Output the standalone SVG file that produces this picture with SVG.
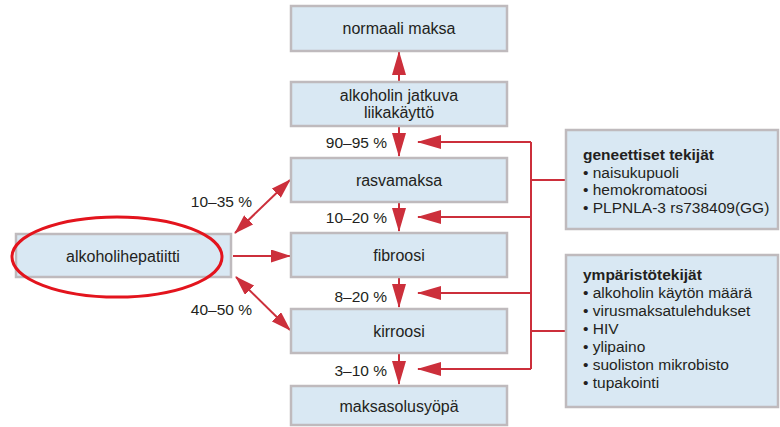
<svg xmlns="http://www.w3.org/2000/svg" width="780" height="427" viewBox="0 0 780 427">
<style>
.box{fill:#d9e8f3;stroke:#bfbabd;stroke-width:2.5}
.t{font-family:"Liberation Sans",Arial,sans-serif;font-size:16px;fill:#231f20;text-anchor:middle}
.s{font-family:"Liberation Sans",Arial,sans-serif;font-size:15.5px;fill:#231f20}
.p{font-family:"Liberation Sans",Arial,sans-serif;font-size:15.5px;fill:#231f20;text-anchor:end}
.b{font-weight:bold}
.ln{fill:none;stroke:#cc2f3b;stroke-width:2}
</style>
<defs>
<marker id="ah" markerUnits="userSpaceOnUse" markerWidth="24" markerHeight="14" viewBox="0 0 24 14" refX="23" refY="7" orient="auto-start-reverse">
<path d="M0,0 L24,7 L0,14 z" fill="#cc2f3b"/>
</marker>
<marker id="ah2" markerUnits="userSpaceOnUse" markerWidth="20" markerHeight="13" viewBox="0 0 20 13" refX="19" refY="6.5" orient="auto-start-reverse">
<path d="M0,0 L20,6.5 L0,13 z" fill="#cc2f3b"/>
</marker>
</defs>
<rect width="780" height="427" fill="#ffffff"/>
<g id="connectors">
<line class="ln" x1="399" y1="82" x2="399" y2="52" marker-end="url(#ah)"/>
<line class="ln" x1="399" y1="127" x2="399" y2="156" marker-end="url(#ah)"/>
<line class="ln" x1="399" y1="203" x2="399" y2="231" marker-end="url(#ah)"/>
<line class="ln" x1="399" y1="278" x2="399" y2="307" marker-end="url(#ah)"/>
<line class="ln" x1="399" y1="354" x2="399" y2="384" marker-end="url(#ah)"/>
<polyline class="ln" points="531,142 531,369"/>
<line class="ln" x1="531" y1="180" x2="565" y2="180"/>
<line class="ln" x1="531" y1="331" x2="565" y2="331"/>
<line class="ln" x1="531" y1="142" x2="418" y2="142" marker-end="url(#ah)"/>
<line class="ln" x1="531" y1="217" x2="418" y2="217" marker-end="url(#ah)"/>
<line class="ln" x1="531" y1="293" x2="418" y2="293" marker-end="url(#ah)"/>
<line class="ln" x1="531" y1="369" x2="418" y2="369" marker-end="url(#ah)"/>
<line class="ln" x1="233" y1="256" x2="290" y2="256" marker-end="url(#ah2)"/>
<line class="ln" x1="235" y1="233" x2="290" y2="180" marker-start="url(#ah2)" marker-end="url(#ah2)"/>
<line class="ln" x1="236" y1="277" x2="290" y2="330" marker-start="url(#ah2)" marker-end="url(#ah2)"/>
</g>
<g id="labels">
<text class="p" x="387" y="148">90–95 %</text>
<text class="p" x="387" y="223">10–20 %</text>
<text class="p" x="387" y="302">8–20 %</text>
<text class="p" x="387" y="376">3–10 %</text>
<text class="p" x="252" y="207">10–35 %</text>
<text class="p" x="252" y="315">40–50 %</text>
</g>
<g id="normaali">
<rect class="box" x="291" y="6" width="216" height="45"/>
<text class="t" x="399" y="34">normaali maksa</text>
</g>
<g id="jatkuva">
<rect class="box" x="291" y="82" width="216" height="44"/>
<text class="t" x="399" y="101">alkoholin jatkuva</text>
<text class="t" x="399" y="118">liikakäyttö</text>
</g>
<g id="rasvamaksa">
<rect class="box" x="291" y="158" width="216" height="44"/>
<text class="t" x="399" y="186">rasvamaksa</text>
</g>
<g id="fibroosi">
<rect class="box" x="291" y="233" width="216" height="44"/>
<text class="t" x="399" y="261">fibroosi</text>
</g>
<g id="kirroosi">
<rect class="box" x="291" y="309" width="216" height="44"/>
<text class="t" x="399" y="337">kirroosi</text>
</g>
<g id="maksasolusyopa">
<rect class="box" x="291" y="386" width="216" height="39"/>
<text class="t" x="399" y="412">maksasolusyöpä</text>
</g>
<g id="alkoholihepatiitti">
<rect class="box" x="16" y="234" width="215" height="43"/>
<text class="t" x="123" y="262">alkoholihepatiitti</text>
<ellipse cx="117" cy="257" rx="105" ry="40" fill="none" stroke="#e3141d" stroke-width="3"/>
</g>
<g id="geneettiset">
<rect class="box" x="566" y="130" width="212" height="99"/>
<text class="s" x="583" y="160"><tspan class="b">geneettiset tekijät</tspan><tspan x="583" dy="17.6">• naisukupuoli</tspan><tspan x="583" dy="17.6">• hemokromatoosi</tspan><tspan x="583" dy="17.6">• PLPNLA-3 rs738409(GG)</tspan></text>
</g>
<g id="ymparisto">
<rect class="box" x="566" y="255" width="212" height="152"/>
<text class="s" x="583" y="280"><tspan class="b">ympäristötekijät</tspan><tspan x="583" dy="18">• alkoholin käytön määrä</tspan><tspan x="583" dy="18">• virusmaksatulehdukset</tspan><tspan x="583" dy="18">• HIV</tspan><tspan x="583" dy="18">• ylipaino</tspan><tspan x="583" dy="18">• suoliston mikrobisto</tspan><tspan x="583" dy="18">• tupakointi</tspan></text>
</g>
</svg>
